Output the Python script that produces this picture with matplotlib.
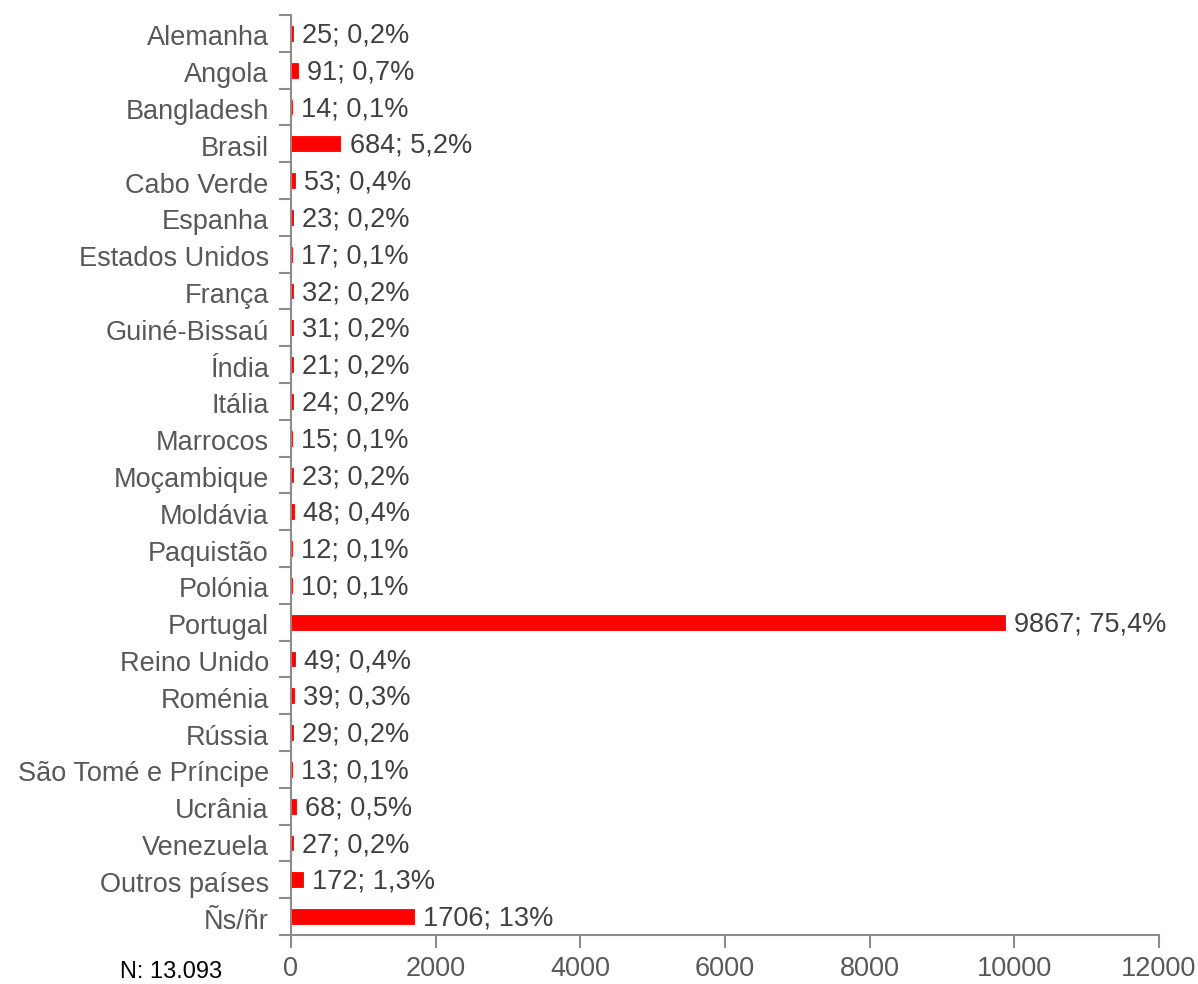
import matplotlib
matplotlib.use("Agg")
import matplotlib.pyplot as plt
import matplotlib.transforms as mtransforms
from matplotlib.ticker import FixedLocator, NullFormatter
import numpy as np

plt.rcParams['font.family'] = ['Liberation Sans', 'DejaVu Sans']

countries = ["Alemanha", "Angola", "Bangladesh", "Brasil", "Cabo Verde", "Espanha",
             "Estados Unidos", "França", "Guiné-Bissaú", "Índia", "Itália", "Marrocos",
             "Moçambique", "Moldávia", "Paquistão", "Polónia", "Portugal", "Reino Unido",
             "Roménia", "Rússia", "São Tomé e Príncipe", "Ucrânia", "Venezuela",
             "Outros países", "Ñs/ñr"]
values = [25, 91, 14, 684, 53, 23, 17, 32, 31, 21, 24, 15, 23, 48, 12, 10, 9867,
          49, 39, 29, 13, 68, 27, 172, 1706]
pcts = ["0,2%", "0,7%", "0,1%", "5,2%", "0,4%", "0,2%", "0,1%", "0,2%", "0,2%", "0,2%",
        "0,2%", "0,1%", "0,2%", "0,4%", "0,1%", "0,1%", "75,4%", "0,4%", "0,3%", "0,2%",
        "0,1%", "0,5%", "0,2%", "1,3%", "13%"]
xticks = [0, 2000, 4000, 6000, 8000, 10000, 12000]
note = "N: 13.093"

W, H = 1198, 984
fig = plt.figure(figsize=(W/100, H/100), dpi=100)
ax = fig.add_axes([291/W, 1 - 935/H, (1159-291)/W, (935-15)/H])

n = len(countries)
y = np.arange(n)
ax.barh(y, values, height=0.4, color="#FF0000", edgecolor="#FF0000", linewidth=0.6)
ax.set_ylim(n - 0.5, -0.5)
ax.set_xlim(0, 12000)

lblc = "#585858"
valc = "#404040"
fs = 19.5
for yi, v, p in zip(y, values, pcts):
    ax.annotate(f"{v}; {p}", (v, yi), xytext=(6.5, -1.5), textcoords="offset points",
                va="center", ha="left", fontsize=fs, color=valc)

ax.set_yticks(y)
ax.set_yticklabels(countries, fontsize=fs, color=lblc)
ax.tick_params(axis='y', which='major', length=0, pad=16)
ax.yaxis.set_minor_locator(FixedLocator(np.arange(-0.5, n, 1.0)))
ax.yaxis.set_minor_formatter(NullFormatter())
ax.tick_params(axis='y', which='minor', length=9, width=1.5, color="#8c8c8c", direction='out')
shift = mtransforms.ScaledTranslation(0, -1.5/72, fig.dpi_scale_trans)
for lab in ax.get_yticklabels():
    lab.set_transform(lab.get_transform() + shift)

ax.set_xticks(xticks)
ax.set_xticklabels([str(t) for t in xticks], fontsize=fs, color=lblc)
ax.tick_params(axis='x', length=9, width=1.5, color="#8c8c8c", pad=6)

for s in ["top", "right"]:
    ax.spines[s].set_visible(False)
for s in ["left", "bottom"]:
    ax.spines[s].set_color("#8c8c8c")
    ax.spines[s].set_linewidth(1.5)

fig.text(120/W, 1 - 972/H, note, fontsize=17, color="black", ha="left", va="center")

fig.savefig("out.png", dpi=100)
